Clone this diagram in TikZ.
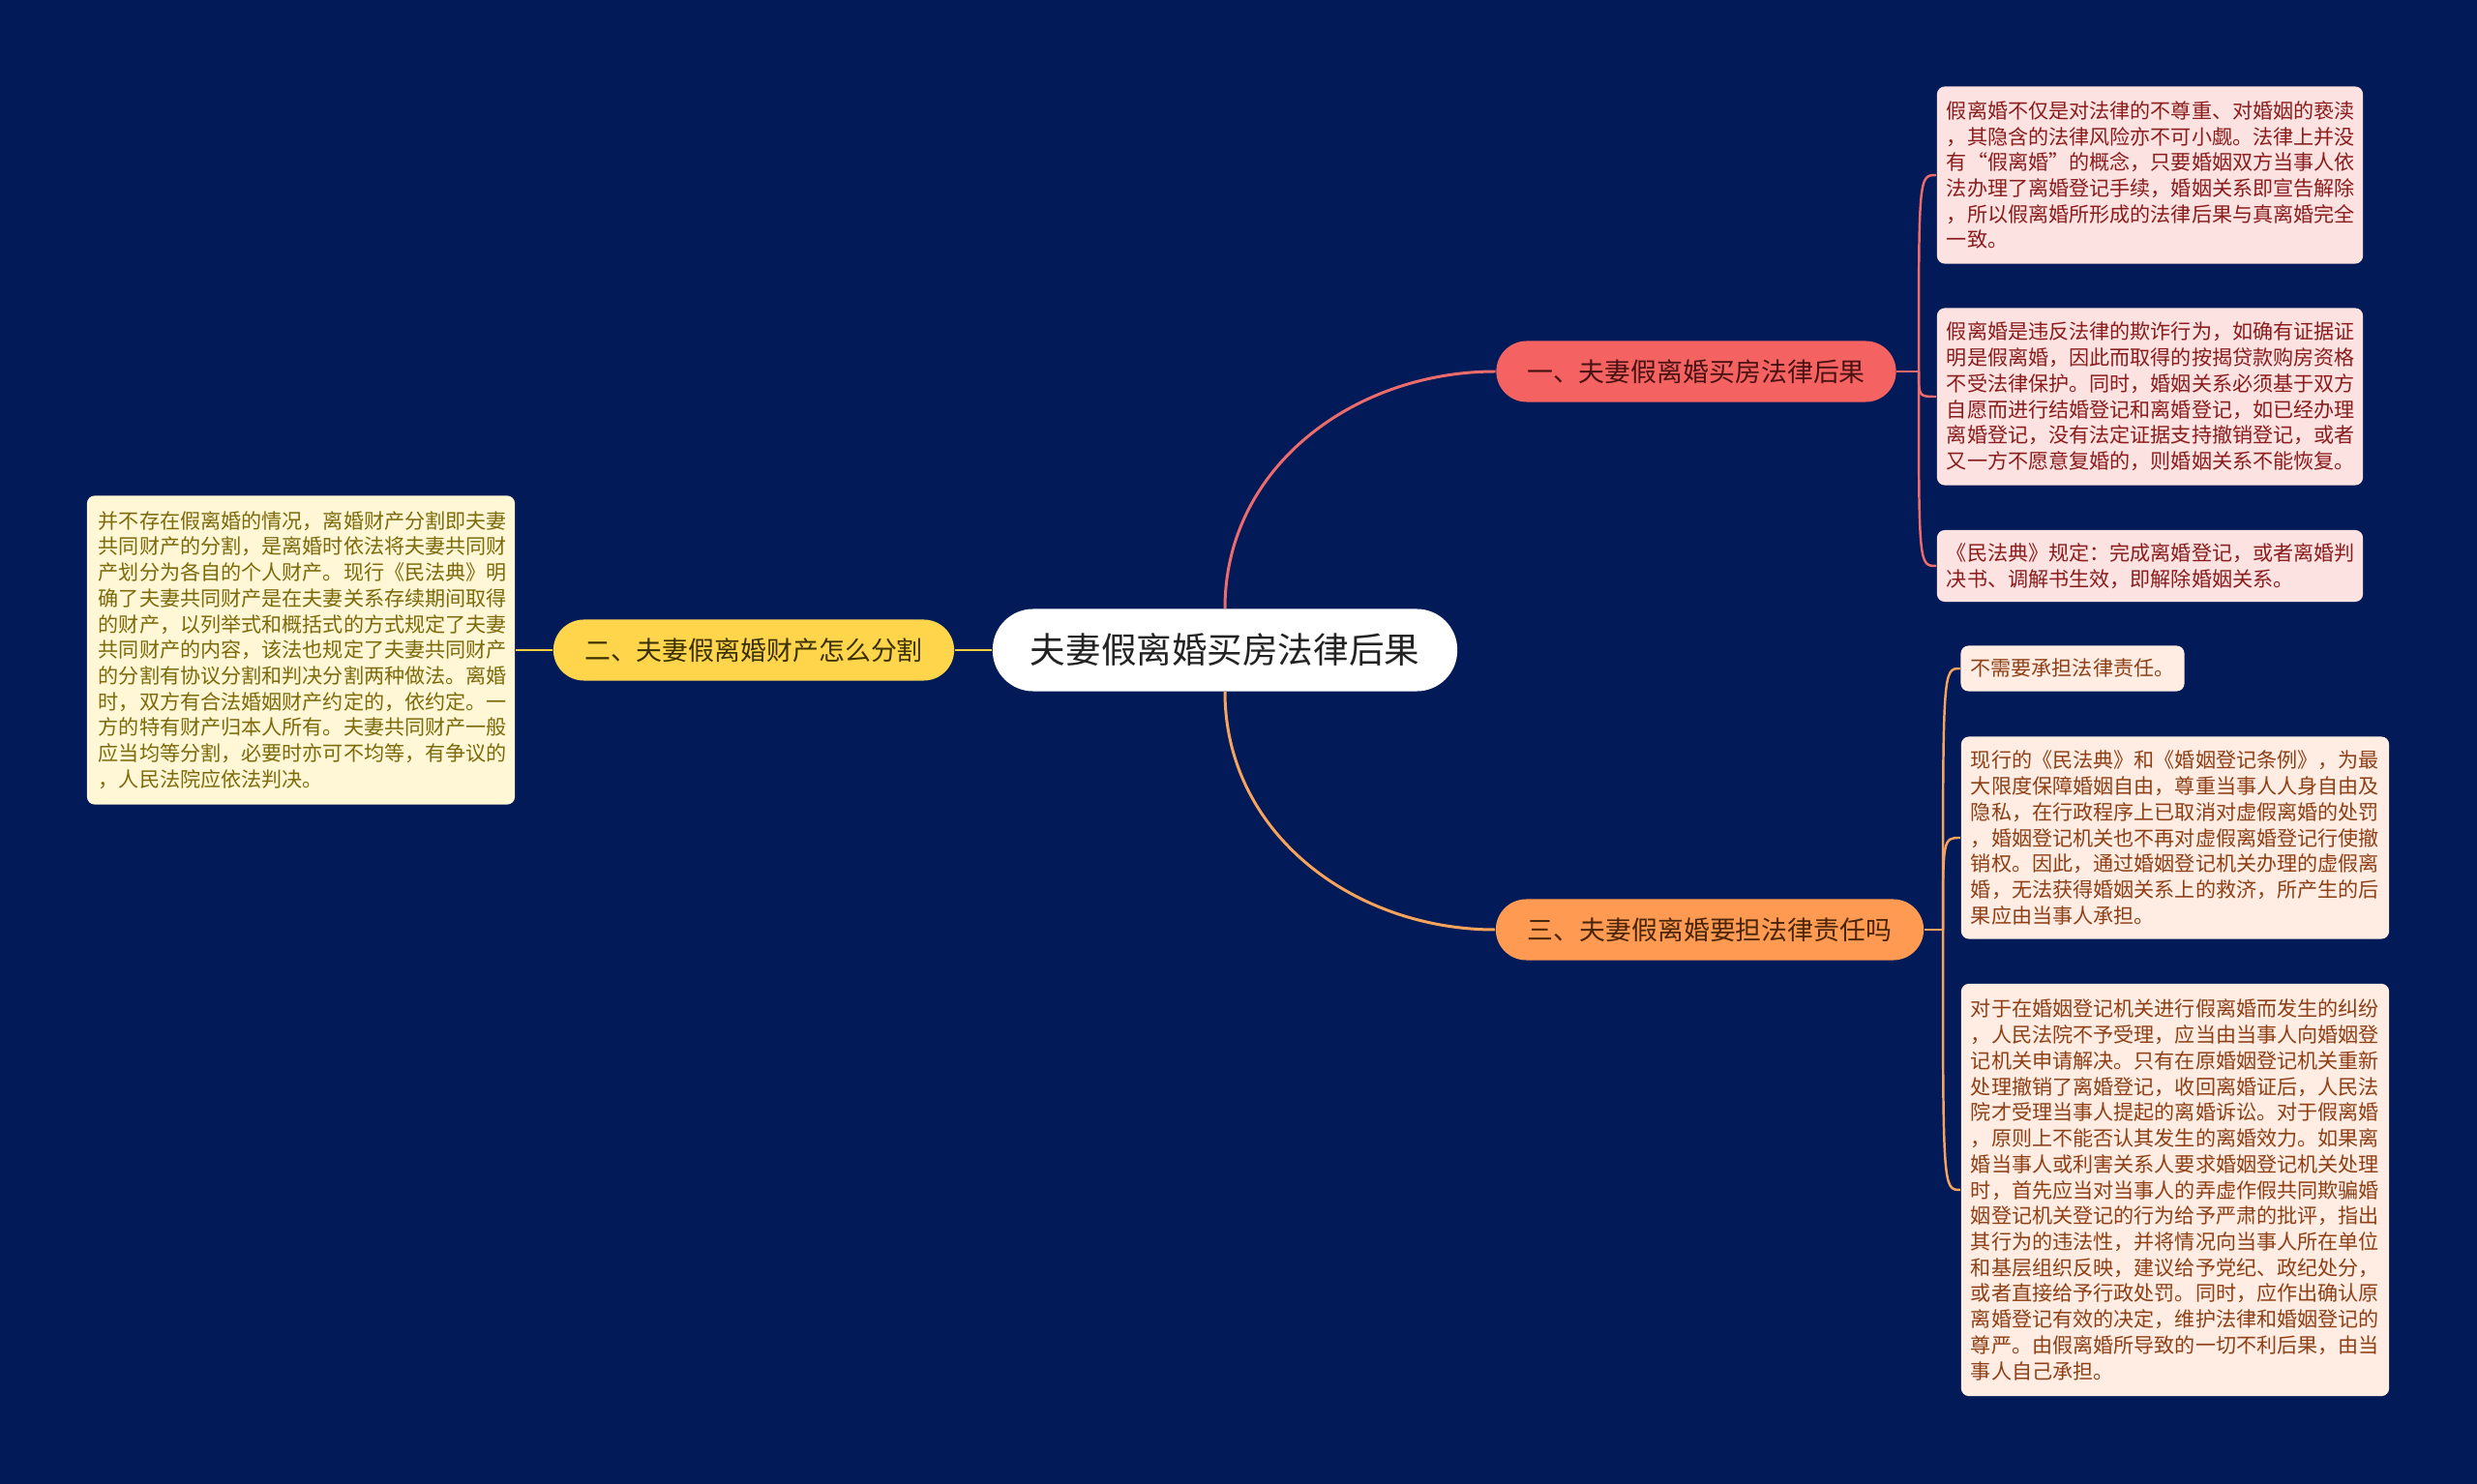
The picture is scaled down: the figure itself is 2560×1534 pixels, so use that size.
\documentclass[tikz,border=0pt]{standalone}
\usepackage{fontspec}
\newfontfamily\cjk{Noto Sans CJK SC}
\usetikzlibrary{positioning}
\definecolor{navy}{HTML}{021B58}
\definecolor{rootink}{HTML}{222222}
\definecolor{redfill}{HTML}{F46262}
\definecolor{redline}{HTML}{EE6B6B}
\definecolor{redink}{HTML}{4A1212}
\definecolor{redleaf}{HTML}{FDE2E2}
\definecolor{redtext}{HTML}{8A1C1C}
\definecolor{yelfill}{HTML}{FFD64B}
\definecolor{yelline}{HTML}{F4D03F}
\definecolor{yelink}{HTML}{3A3000}
\definecolor{yelleaf}{HTML}{FFF7D6}
\definecolor{yeltext}{HTML}{7D6A0A}
\definecolor{orafill}{HTML}{FF9A52}
\definecolor{oraline}{HTML}{F7A35C}
\definecolor{oraink}{HTML}{4A2508}
\definecolor{oraleaf}{HTML}{FFEDE3}
\definecolor{oratext}{HTML}{8E3F16}
\begin{document}
\begin{tikzpicture}[x=0.01cm,y=-0.01cm,
  topic/.style={rounded corners=0.315cm, minimum height=0.63cm, inner sep=0pt,
    font=\fontsize{7.65}{9}\selectfont\cjk},
  leaf/.style={rounded corners=0.08cm, inner xsep=0.1cm, inner ysep=0pt,
    text width=4.2cm, align=left, font=\fontsize{6}{7.6}\selectfont\cjk},
  link/.style={line width=0.85pt},
  twig/.style={line width=0.7pt}]
\fill[navy] (0,0) rectangle (2560,1534);
% centre
\node[fill=white, rounded corners=0.42cm, minimum width=4.8cm, minimum height=0.85cm,
  inner sep=0pt, text=rootink, font=\fontsize{10.4}{12}\selectfont\cjk] (root) at (1266,672) {夫妻假离婚买房法律后果};
% (1)
\node[topic, fill=redfill, text=redink, minimum width=4.13cm] (t1) at (1753,384) {一、夫妻假离婚买房法律后果};
\node[leaf, fill=redleaf, text=redtext, minimum height=1.83cm] (l1a) at (2222,181) {假离婚不仅是对法律的不尊重、对婚姻的亵渎\\，其隐含的法律风险亦不可小觑。法律上并没\\有“假离婚”的概念，只要婚姻双方当事人依\\法办理了离婚登记手续，婚姻关系即宣告解除\\，所以假离婚所形成的法律后果与真离婚完全\\一致。};
\node[leaf, fill=redleaf, text=redtext, minimum height=1.83cm] (l1b) at (2222,410) {假离婚是违反法律的欺诈行为，如确有证据证\\明是假离婚，因此而取得的按揭贷款购房资格\\不受法律保护。同时，婚姻关系必须基于双方\\自愿而进行结婚登记和离婚登记，如已经办理\\离婚登记，没有法定证据支持撤销登记，或者\\又一方不愿意复婚的，则婚姻关系不能恢复。};
\node[leaf, fill=redleaf, text=redtext, minimum height=0.74cm] (l1c) at (2222,585) {《民法典》规定：完成离婚登记，或者离婚判\\决书、调解书生效，即解除婚姻关系。};
\draw[link, redline] (root.north) .. controls +(0,-146) and +(-146,0) .. (t1.west);
\coordinate (j1) at (1983,384);
\draw[twig, redline] (t1.east) -- (j1);
\foreach \n in {l1a,l1b,l1c}
  \draw[twig, redline] (j1) .. controls (j1 |- \n.west) and (j1 |- \n.west) .. (\n.west);
% (2)
\node[topic, fill=yelfill, text=yelink, minimum width=4.14cm] (t2) at (779,672) {二、夫妻假离婚财产怎么分割};
\node[leaf, fill=yelleaf, text=yeltext, text width=4.18cm, inner xsep=0.12cm, minimum height=3.19cm] (l2) at (311,672) {并不存在假离婚的情况，离婚财产分割即夫妻\\共同财产的分割，是离婚时依法将夫妻共同财\\产划分为各自的个人财产。现行《民法典》明\\确了夫妻共同财产是在夫妻关系存续期间取得\\的财产，以列举式和概括式的方式规定了夫妻\\共同财产的内容，该法也规定了夫妻共同财产\\的分割有协议分割和判决分割两种做法。离婚\\时，双方有合法婚姻财产约定的，依约定。一\\方的特有财产归本人所有。夫妻共同财产一般\\应当均等分割，必要时亦可不均等，有争议的\\，人民法院应依法判决。};
\draw[link, yelline] (root.west) -- (t2.east);
\draw[twig, yelline] (t2.west) -- (l2.east);
% (3)
\node[topic, fill=orafill, text=oraink, minimum width=4.42cm] (t3) at (1767,961) {三、夫妻假离婚要担法律责任吗};
\node[leaf, fill=oraleaf, text=oratext, text width=2.11cm, minimum height=0.47cm] (l3a) at (2142,691) {不需要承担法律责任。};
\node[leaf, fill=oraleaf, text=oratext, text width=4.22cm, minimum height=2.09cm] (l3b) at (2248,866) {现行的《民法典》和《婚姻登记条例》，为最\\大限度保障婚姻自由，尊重当事人人身自由及\\隐私，在行政程序上已取消对虚假离婚的处罚\\，婚姻登记机关也不再对虚假离婚登记行使撤\\销权。因此，通过婚姻登记机关办理的虚假离\\婚，无法获得婚姻关系上的救济，所产生的后\\果应由当事人承担。};
\node[leaf, fill=oraleaf, text=oratext, text width=4.22cm, minimum height=4.26cm] (l3c) at (2248,1230) {对于在婚姻登记机关进行假离婚而发生的纠纷\\，人民法院不予受理，应当由当事人向婚姻登\\记机关申请解决。只有在原婚姻登记机关重新\\处理撤销了离婚登记，收回离婚证后，人民法\\院才受理当事人提起的离婚诉讼。对于假离婚\\，原则上不能否认其发生的离婚效力。如果离\\婚当事人或利害关系人要求婚姻登记机关处理\\时，首先应当对当事人的弄虚作假共同欺骗婚\\姻登记机关登记的行为给予严肃的批评，指出\\其行为的违法性，并将情况向当事人所在单位\\和基层组织反映，建议给予党纪、政纪处分，\\或者直接给予行政处罚。同时，应作出确认原\\离婚登记有效的决定，维护法律和婚姻登记的\\尊严。由假离婚所导致的一切不利后果，由当\\事人自己承担。};
\draw[link, oraline] (root.south) .. controls +(0,146) and +(-146,0) .. (t3.west);
\coordinate (j3) at (2008,961);
\draw[twig, oraline] (t3.east) -- (j3);
\foreach \n in {l3a,l3b,l3c}
  \draw[twig, oraline] (j3) .. controls (j3 |- \n.west) and (j3 |- \n.west) .. (\n.west);
\end{tikzpicture}
\end{document}
